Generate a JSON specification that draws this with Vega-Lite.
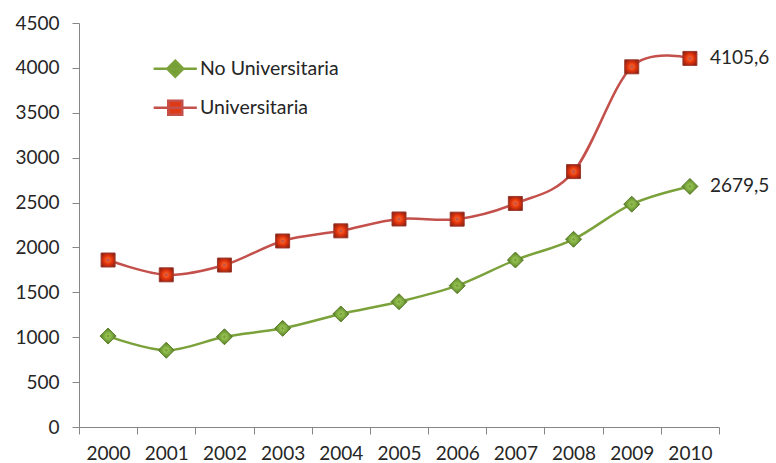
{
  "$schema": "https://vega.github.io/schema/vega-lite/v6.json",
  "width": 640,
  "height": 404,
  "autosize": {"type": "none"},
  "padding": {"left": 79, "top": 23, "right": 57, "bottom": 36},
  "background": "white",
  "config": {
    "view": {"stroke": null},
    "font": "Lato",
    "locale": {"number": {"decimal": ",", "thousands": ".", "grouping": [3], "currency": ["", " €"]}}
  },
  "data": {
    "values": [
      {"year": 2000, "serie": "No Universitaria", "value": 1013},
      {"year": 2001, "serie": "No Universitaria", "value": 855},
      {"year": 2002, "serie": "No Universitaria", "value": 1005},
      {"year": 2003, "serie": "No Universitaria", "value": 1099},
      {"year": 2004, "serie": "No Universitaria", "value": 1259},
      {"year": 2005, "serie": "No Universitaria", "value": 1395},
      {"year": 2006, "serie": "No Universitaria", "value": 1574},
      {"year": 2007, "serie": "No Universitaria", "value": 1860},
      {"year": 2008, "serie": "No Universitaria", "value": 2091},
      {"year": 2009, "serie": "No Universitaria", "value": 2482},
      {"year": 2010, "serie": "No Universitaria", "value": 2679.5},
      {"year": 2000, "serie": "Universitaria", "value": 1860},
      {"year": 2001, "serie": "Universitaria", "value": 1695},
      {"year": 2002, "serie": "Universitaria", "value": 1804},
      {"year": 2003, "serie": "Universitaria", "value": 2072},
      {"year": 2004, "serie": "Universitaria", "value": 2185},
      {"year": 2005, "serie": "Universitaria", "value": 2317},
      {"year": 2006, "serie": "Universitaria", "value": 2315},
      {"year": 2007, "serie": "Universitaria", "value": 2490},
      {"year": 2008, "serie": "Universitaria", "value": 2845},
      {"year": 2009, "serie": "Universitaria", "value": 4012},
      {"year": 2010, "serie": "Universitaria", "value": 4105.6}
    ]
  },
  "encoding": {
    "x": {
      "field": "year",
      "type": "ordinal",
      "scale": {"type": "band", "paddingInner": 0, "paddingOuter": 0},
      "axis": {
        "title": null,
        "labelAngle": 0,
        "tickBand": "extent",
        "domainColor": "#868686",
        "tickColor": "#868686",
        "tickSize": 7,
        "labelFontSize": 19,
        "labelColor": "#262626",
        "labelPadding": 10,
        "grid": false
      }
    },
    "y": {
      "field": "value",
      "type": "quantitative",
      "scale": {"domain": [0, 4500], "nice": false},
      "axis": {
        "title": null,
        "values": [0, 500, 1000, 1500, 2000, 2500, 3000, 3500, 4000, 4500],
        "format": "d",
        "domainColor": "#868686",
        "tickColor": "#868686",
        "tickSize": 7,
        "labelFontSize": 19,
        "labelColor": "#262626",
        "labelPadding": 13,
        "grid": false
      }
    }
  },
  "layer": [
    {
      "transform": [{"filter": "datum.serie === 'No Universitaria'"}],
      "mark": {"type": "line", "interpolate": "cardinal", "strokeWidth": 2.5, "color": "#7BA13A"}
    },
    {
      "transform": [{"filter": "datum.serie === 'Universitaria'"}],
      "mark": {"type": "line", "interpolate": "cardinal", "strokeWidth": 2.5, "color": "#C4504C"}
    },
    {
      "transform": [{"filter": "datum.serie === 'Universitaria'"}],
      "mark": {
        "type": "point",
        "shape": "square",
        "size": 196,
        "filled": true,
        "opacity": 1,
        "stroke": "#9A3A30",
        "strokeWidth": 1,
        "fill": {
          "gradient": "radial",
          "x1": 0.5, "y1": 0.5, "r1": 0,
          "x2": 0.5, "y2": 0.5, "r2": 0.7,
          "stops": [
            {"offset": 0, "color": "#FF7A30"},
            {"offset": 0.45, "color": "#E2330E"},
            {"offset": 1, "color": "#6E1A0E"}
          ]
        }
      }
    },
    {
      "transform": [{"filter": "datum.serie === 'No Universitaria'"}],
      "mark": {
        "type": "point",
        "shape": "M0,-1L1,0L0,1L-1,0Z",
        "size": 256,
        "filled": true,
        "opacity": 1,
        "stroke": "#5C7F2A",
        "strokeWidth": 1,
        "fill": {
          "gradient": "radial",
          "x1": 0.5, "y1": 0.5, "r1": 0,
          "x2": 0.5, "y2": 0.5, "r2": 0.6,
          "stops": [
            {"offset": 0, "color": "#A8D463"},
            {"offset": 0.5, "color": "#77A33A"},
            {"offset": 1, "color": "#3F5E18"}
          ]
        }
      }
    },
    {
      "transform": [{"filter": "datum.year === 2010"}],
      "mark": {"type": "text", "align": "left", "baseline": "middle", "dx": 20, "fontSize": 19, "color": "#262626"},
      "encoding": {
        "text": {"field": "value", "type": "quantitative", "format": ".1f"}
      }
    },
    {
      "mark": {"type": "point", "filled": true, "opacity": 1, "size": 0.01, "strokeWidth": 2.5},
      "encoding": {
        "shape": {
          "field": "serie", "type": "nominal",
          "scale": {"domain": ["No Universitaria", "Universitaria"], "range": ["M-2.7,0H2.7M0,-1L1,0L0,1L-1,0Z", "M-2.7,0H2.7M-0.875,-0.875H0.875V0.875H-0.875Z"]},
          "legend": {"title": null, "orient": "none", "legendX": 86.5, "legendY": 36, "labelFontSize": 19.5, "labelColor": "#262626", "labelOffset": 15, "rowPadding": 13, "symbolSize": 256, "symbolStrokeWidth": 2.5, "symbolOpacity": 1, "padding": 0}
        },
        "fill": {
          "field": "serie", "type": "nominal",
          "scale": {"domain": ["No Universitaria", "Universitaria"], "range": ["#74A033", "#DE3A16"]},
          "legend": {"title": null, "orient": "none", "legendX": 86.5, "legendY": 36, "labelFontSize": 19.5, "labelColor": "#262626", "labelOffset": 15, "rowPadding": 13, "symbolSize": 256, "symbolStrokeWidth": 2.5, "symbolOpacity": 1, "padding": 0}
        },
        "stroke": {
          "field": "serie", "type": "nominal",
          "scale": {"domain": ["No Universitaria", "Universitaria"], "range": ["#7BA13A", "#C4504C"]},
          "legend": {"title": null, "orient": "none", "legendX": 86.5, "legendY": 36, "labelFontSize": 19.5, "labelColor": "#262626", "labelOffset": 15, "rowPadding": 13, "symbolSize": 256, "symbolStrokeWidth": 2.5, "symbolOpacity": 1, "padding": 0}
        }
      }
    }
  ]
}
